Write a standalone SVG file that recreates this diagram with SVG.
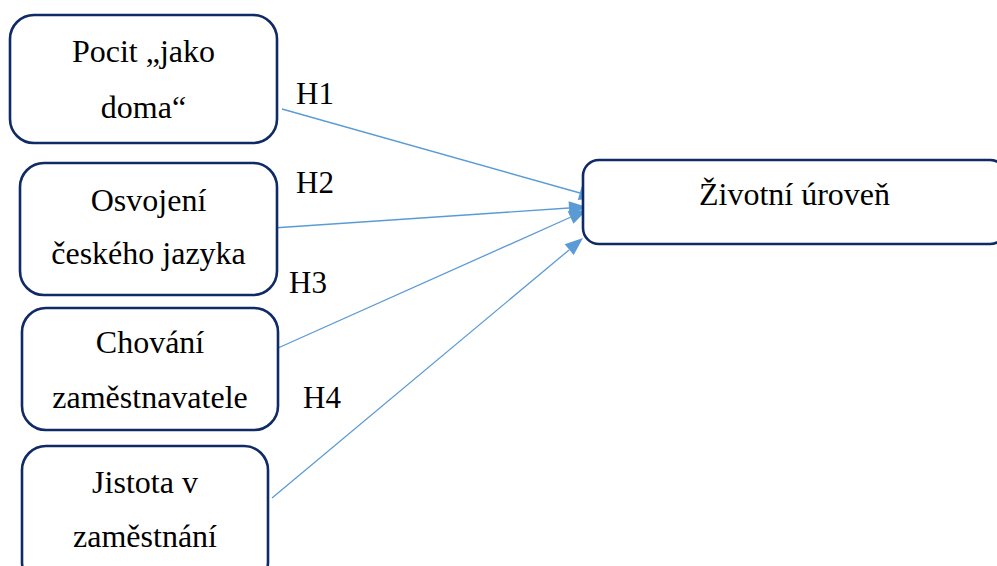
<svg xmlns="http://www.w3.org/2000/svg" width="997" height="566" viewBox="0 0 997 566">
<defs>
<style>
.box{fill:#fff;stroke:#0f2a66;stroke-width:2.6}
.t{font-family:'Liberation Serif','Times New Roman','DejaVu Serif',serif;font-size:32px;fill:#000;text-anchor:middle}
.h{font-family:'Liberation Serif','Times New Roman','DejaVu Serif',serif;font-size:31px;fill:#000}
.c{stroke:#5b9bd5;stroke-width:1.3;fill:none}
.hd{fill:#5b9bd5;stroke:none}
</style>
</defs>
<rect width="997" height="566" fill="#fff"/>
<g id="connectors">
<line class="c" x1="282" y1="109" x2="580" y2="193"/>
<polygon class="hd" points="597,198 577.8,199.9 581.6,186.4"/>
<line class="c" x1="273" y1="228" x2="569" y2="208"/>
<polygon class="hd" points="587,207 569.5,215.2 568.6,201.2"/>
<line class="c" x1="278" y1="348" x2="571" y2="217"/>
<polygon class="hd" points="587,210 573.4,223.7 567.7,211"/>
<line class="c" x1="272" y1="498" x2="569" y2="250"/>
<polygon class="hd" points="583,238 573.7,254.9 564.7,244.2"/>
<text class="h" x="296" y="104">H1</text>
<text class="h" x="296" y="193">H2</text>
<text class="h" x="289" y="293">H3</text>
<text class="h" x="303" y="408">H4</text>
</g>
<g id="n1">
<rect class="box" x="10" y="15" width="267" height="128" rx="24"/>
<text class="t" x="143.5" y="62">Pocit „jako</text>
<text class="t" x="143.5" y="118">doma“</text>
</g>
<g id="n2">
<rect class="box" x="20" y="163" width="257" height="132" rx="24"/>
<text class="t" x="148.5" y="211">Osvojení</text>
<text class="t" x="148.5" y="264">českého jazyka</text>
</g>
<g id="n3">
<rect class="box" x="22" y="308" width="256" height="122" rx="24"/>
<text class="t" x="150" y="353">Chování</text>
<text class="t" x="150" y="408">zaměstnavatele</text>
</g>
<g id="n4">
<rect class="box" x="22" y="446" width="246" height="140" rx="24"/>
<text class="t" x="145" y="493">Jistota v</text>
<text class="t" x="145" y="547">zaměstnání</text>
</g>
<g id="target">
<rect class="box" x="583" y="160" width="423" height="84" rx="16"/>
<text class="t" x="794.5" y="205">Životní úroveň</text>
</g>
</svg>
